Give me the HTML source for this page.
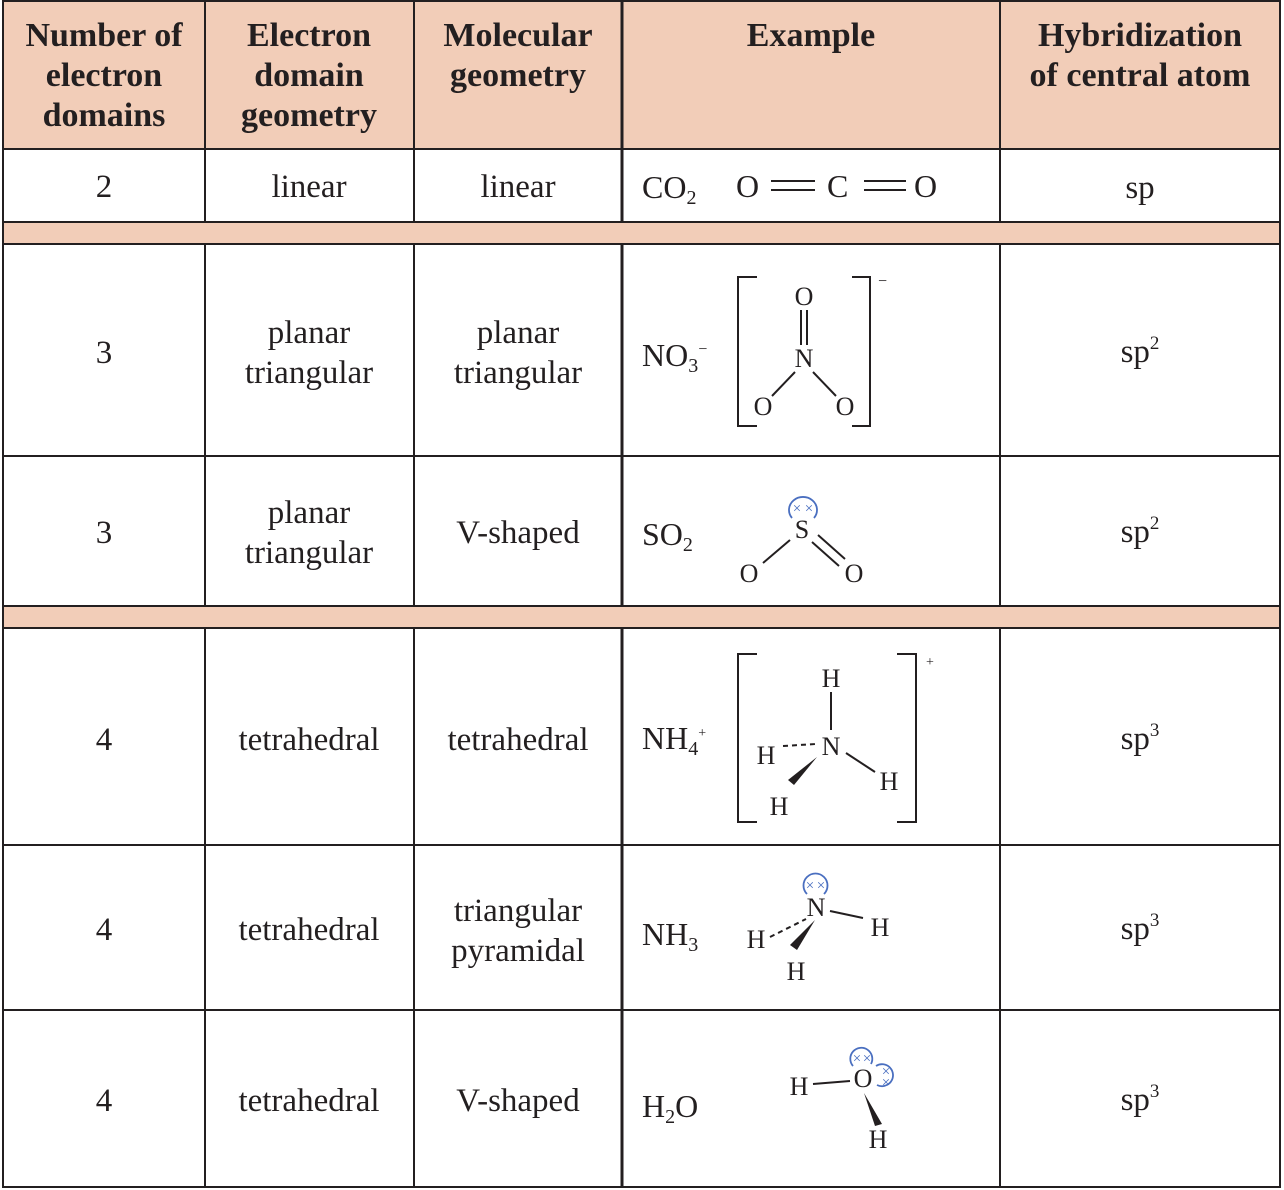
<!DOCTYPE html>
<html><head><meta charset="utf-8"><style>
html,body{margin:0;padding:0;background:#fff}
svg{display:block}
text{font-family:"Liberation Serif",serif;fill:#231f20}
.h{font-weight:bold;font-size:34px;text-anchor:middle}
.b{font-size:33px;text-anchor:middle}
.l{font-size:32px}
.s{font-size:26px;text-anchor:middle}
.bl{stroke:#4a6fc0;fill:none;stroke-width:1.8}
.bx{fill:#4a6fc0;font-size:15px;text-anchor:middle}
</style></head><body>
<svg width="1284" height="1190" viewBox="0 0 1284 1190" xmlns="http://www.w3.org/2000/svg">
<rect x="3" y="0" width="1277" height="149" fill="#f2cdb8"/>
<rect x="3" y="222" width="1277" height="22" fill="#f2cdb8"/>
<rect x="3" y="606" width="1277" height="22" fill="#f2cdb8"/>
<g stroke="#231f20" stroke-width="2" fill="none">
<rect x="3" y="1" width="1277" height="1186"/>
<line x1="3" y1="149" x2="1280" y2="149"/>
<line x1="3" y1="222" x2="1280" y2="222"/>
<line x1="3" y1="244" x2="1280" y2="244"/>
<line x1="3" y1="456" x2="1280" y2="456"/>
<line x1="3" y1="606" x2="1280" y2="606"/>
<line x1="3" y1="628" x2="1280" y2="628"/>
<line x1="3" y1="845" x2="1280" y2="845"/>
<line x1="3" y1="1010" x2="1280" y2="1010"/>
<line x1="205" y1="0" x2="205" y2="222"/><line x1="205" y1="244" x2="205" y2="606"/><line x1="205" y1="628" x2="205" y2="1187"/>
<line x1="414" y1="0" x2="414" y2="222"/><line x1="414" y1="244" x2="414" y2="606"/><line x1="414" y1="628" x2="414" y2="1187"/>
<line x1="622" y1="0" x2="622" y2="222" stroke-width="3"/><line x1="622" y1="244" x2="622" y2="606" stroke-width="3"/><line x1="622" y1="628" x2="622" y2="1187" stroke-width="3"/>
<line x1="1000" y1="0" x2="1000" y2="222"/><line x1="1000" y1="244" x2="1000" y2="606"/><line x1="1000" y1="628" x2="1000" y2="1187"/>
</g>
<!-- header -->
<text class="h" x="104" y="46">Number of</text><text class="h" x="104" y="86">electron</text><text class="h" x="104" y="126">domains</text>
<text class="h" x="309" y="46">Electron</text><text class="h" x="309" y="86">domain</text><text class="h" x="309" y="126">geometry</text>
<text class="h" x="518" y="46">Molecular</text><text class="h" x="518" y="86">geometry</text>
<text class="h" x="811" y="46">Example</text>
<text class="h" x="1140" y="46">Hybridization</text><text class="h" x="1140" y="86">of central atom</text>
<!-- row 1 -->
<text class="b" x="104" y="197">2</text><text class="b" x="309" y="197">linear</text><text class="b" x="518" y="197">linear</text>
<text class="l" x="642" y="198">CO<tspan font-size="20" dy="6">2</tspan></text>
<text class="l" x="736" y="197">O</text><text class="l" x="827" y="197">C</text><text class="l" x="914" y="197">O</text>
<g stroke="#231f20" stroke-width="2"><line x1="771" y1="181" x2="815" y2="181"/><line x1="771" y1="190" x2="815" y2="190"/><line x1="864" y1="181" x2="906" y2="181"/><line x1="864" y1="190" x2="906" y2="190"/></g>
<text class="b" x="1140" y="198">sp</text>
<!-- NO3 -->
<text class="b" x="104" y="363">3</text><text class="b" x="309" y="343">planar</text><text class="b" x="309" y="383">triangular</text>
<text class="b" x="518" y="343">planar</text><text class="b" x="518" y="383">triangular</text>
<text class="l" x="642" y="366">NO<tspan font-size="20" dy="6">3</tspan><tspan font-size="16" dy="-18">−</tspan></text>
<g stroke="#231f20" stroke-width="2" fill="none">
<polyline points="757,277 738,277 738,426 757,426"/><polyline points="852,277 870,277 870,426 852,426"/>
<line x1="801" y1="310" x2="801" y2="345"/><line x1="807" y1="310" x2="807" y2="345"/>
<line x1="795" y1="372" x2="772" y2="396"/><line x1="813" y1="372" x2="836" y2="396"/>
<line x1="790" y1="540" x2="763" y2="563"/><line x1="818" y1="535" x2="845" y2="559"/><line x1="812" y1="542" x2="839" y2="566"/>
<polyline points="757,654 738,654 738,822 757,822"/><polyline points="897,654 916,654 916,822 897,822"/>
<line x1="831" y1="692" x2="831" y2="730"/>
<line x1="783" y1="746" x2="816" y2="744" stroke-dasharray="5,4"/>
<line x1="846" y1="753" x2="875" y2="772"/>
<line x1="830" y1="911" x2="863" y2="918"/>
<line x1="770" y1="937" x2="806" y2="919" stroke-dasharray="5,4"/>
<line x1="813" y1="1084" x2="850" y2="1081"/>
</g>
<text class="s" x="804" y="305">O</text><text class="s" x="804" y="367">N</text><text class="s" x="763" y="415">O</text><text class="s" x="845" y="415">O</text>
<text x="878" y="286" font-size="16">−</text>
<text class="b" x="1140" y="362">sp<tspan font-size="19" dy="-13">2</tspan></text>
<!-- SO2 -->
<text class="b" x="104" y="543">3</text><text class="b" x="309" y="523">planar</text><text class="b" x="309" y="563">triangular</text>
<text class="b" x="518" y="543">V-shaped</text>
<text class="l" x="642" y="545">SO<tspan font-size="20" dy="6">2</tspan></text>
<text class="s" x="802" y="538">S</text><text class="s" x="749" y="582">O</text><text class="s" x="854" y="582">O</text>
<path class="bl" d="M792,518 A14,13 0 1 1 814,518"/>
<text class="bx" x="797" y="513">×</text><text class="bx" x="809" y="513">×</text>
<text class="b" x="1140" y="542">sp<tspan font-size="19" dy="-13">2</tspan></text>
<!-- NH4 -->
<text class="b" x="104" y="750">4</text><text class="b" x="309" y="750">tetrahedral</text><text class="b" x="518" y="750">tetrahedral</text>
<text class="l" x="642" y="749">NH<tspan font-size="20" dy="6">4</tspan><tspan font-size="14" dy="-18">+</tspan></text>
<text class="s" x="831" y="687">H</text><text class="s" x="831" y="755">N</text><text class="s" x="766" y="764">H</text><text class="s" x="889" y="790">H</text><text class="s" x="779" y="815">H</text>
<polygon points="817,757 794,785 788,780" fill="#231f20"/>
<text x="926" y="666" font-size="14">+</text>
<text class="b" x="1140" y="749">sp<tspan font-size="19" dy="-13">3</tspan></text>
<!-- NH3 -->
<text class="b" x="104" y="940">4</text><text class="b" x="309" y="940">tetrahedral</text>
<text class="b" x="518" y="921">triangular</text><text class="b" x="518" y="961">pyramidal</text>
<text class="l" x="642" y="945">NH<tspan font-size="20" dy="6">3</tspan></text>
<text class="s" x="816" y="916">N</text><text class="s" x="880" y="936">H</text><text class="s" x="756" y="948">H</text><text class="s" x="796" y="980">H</text>
<polygon points="815,920 797,950 790,945" fill="#231f20"/>
<path class="bl" d="M807,894 A12,12 0 1 1 824,894"/>
<text class="bx" x="810" y="890">×</text><text class="bx" x="821" y="890">×</text>
<text class="b" x="1140" y="939">sp<tspan font-size="19" dy="-13">3</tspan></text>
<!-- H2O -->
<text class="b" x="104" y="1111">4</text><text class="b" x="309" y="1111">tetrahedral</text><text class="b" x="518" y="1111">V-shaped</text>
<text class="l" x="642" y="1117">H<tspan font-size="20" dy="6">2</tspan><tspan dy="-6">O</tspan></text>
<text class="s" x="799" y="1095">H</text><text class="s" x="863" y="1087">O</text><text class="s" x="878" y="1148">H</text>
<polygon points="864,1093 882,1124 875,1126" fill="#231f20"/>
<path class="bl" d="M853,1066 A11,11 0 1 1 871,1064"/>
<path class="bl" d="M876,1066 A11,11 0 1 1 877,1085"/>
<text class="bx" x="857" y="1063">×</text><text class="bx" x="867" y="1063">×</text>
<text class="bx" x="886" y="1076">×</text><text class="bx" x="886" y="1087">×</text>
<text class="b" x="1140" y="1110">sp<tspan font-size="19" dy="-13">3</tspan></text>
</svg>
</body></html>
